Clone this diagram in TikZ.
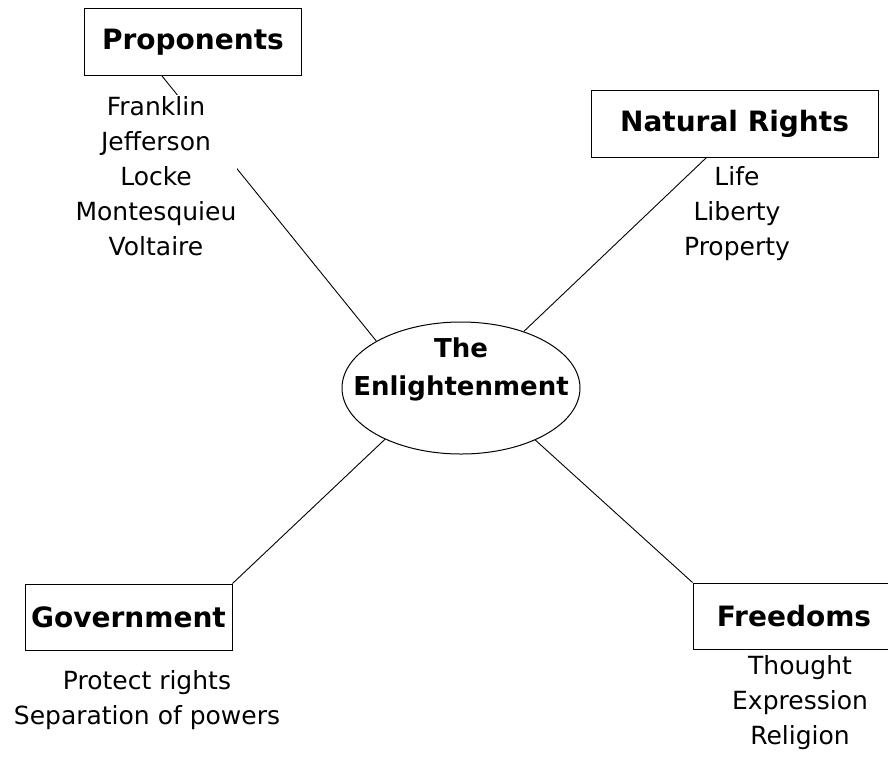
\documentclass[tikz,border=0pt]{standalone}
\usepackage{fontspec}
\setmainfont{DejaVu Sans}
\usetikzlibrary{shapes.geometric,calc}
\begin{document}
\begin{tikzpicture}[x=1pt,y=-1pt,
  titlebox/.style={draw, line width=1pt, inner sep=0pt, font=\bfseries\fontsize{28}{32}\selectfont},
  listtext/.style={align=center, inner sep=1pt, font=\fontsize{25}{35}\selectfont},
  link/.style={line width=0.9pt}]
\useasboundingbox (0,0) rectangle (888,761);
\clip (0,0) rectangle (888,761);
\fill[white] (0,0) rectangle (888,761);

\node[draw, ellipse, line width=1pt, minimum width=238pt, minimum height=132pt] (el) at (461,388) {};
\node[align=center, font=\bfseries\fontsize{26}{38}\selectfont] (eltext) at (461,369) {The\\Enlightenment};

\node[titlebox, minimum width=217pt, minimum height=67pt] (prop) at (193,42) {Proponents};
\node[titlebox, minimum width=287pt, minimum height=67pt] (nat) at (734.5,123.5) {Natural Rights};
\node[titlebox, minimum width=207pt, minimum height=66pt] (gov) at (128.5,617) {Government};
\node[titlebox, minimum width=210pt, minimum height=66pt, text depth=0pt] (free) at (798,616) {\hspace*{-8pt}Freedoms};

\coordinate (propfoot) at ($(prop.south west)+(78,0)$);
\coordinate (natfoot) at ($(nat.south west)+(116,0)$);

\draw[link] (el.151) -- (propfoot);
\draw[link] (el.42) -- (natfoot);
\draw[link] (el.214) -- (gov.north east);
\draw[link] (el.325) -- (free.north west);

\node[listtext, fill=white] (proplist) at (156,176) {Franklin\\Jefferson\\Locke\\Montesquieu\\Voltaire};
\node[listtext] (natlist) at (737,214) {Life\\Liberty\\Property};
\node[listtext] (govlist) at (147,700) {Protect rights\\Separation of powers};
\node[listtext] (freelist) at (800,703) {Thought\\Expression\\Religion};
\end{tikzpicture}
\end{document}
